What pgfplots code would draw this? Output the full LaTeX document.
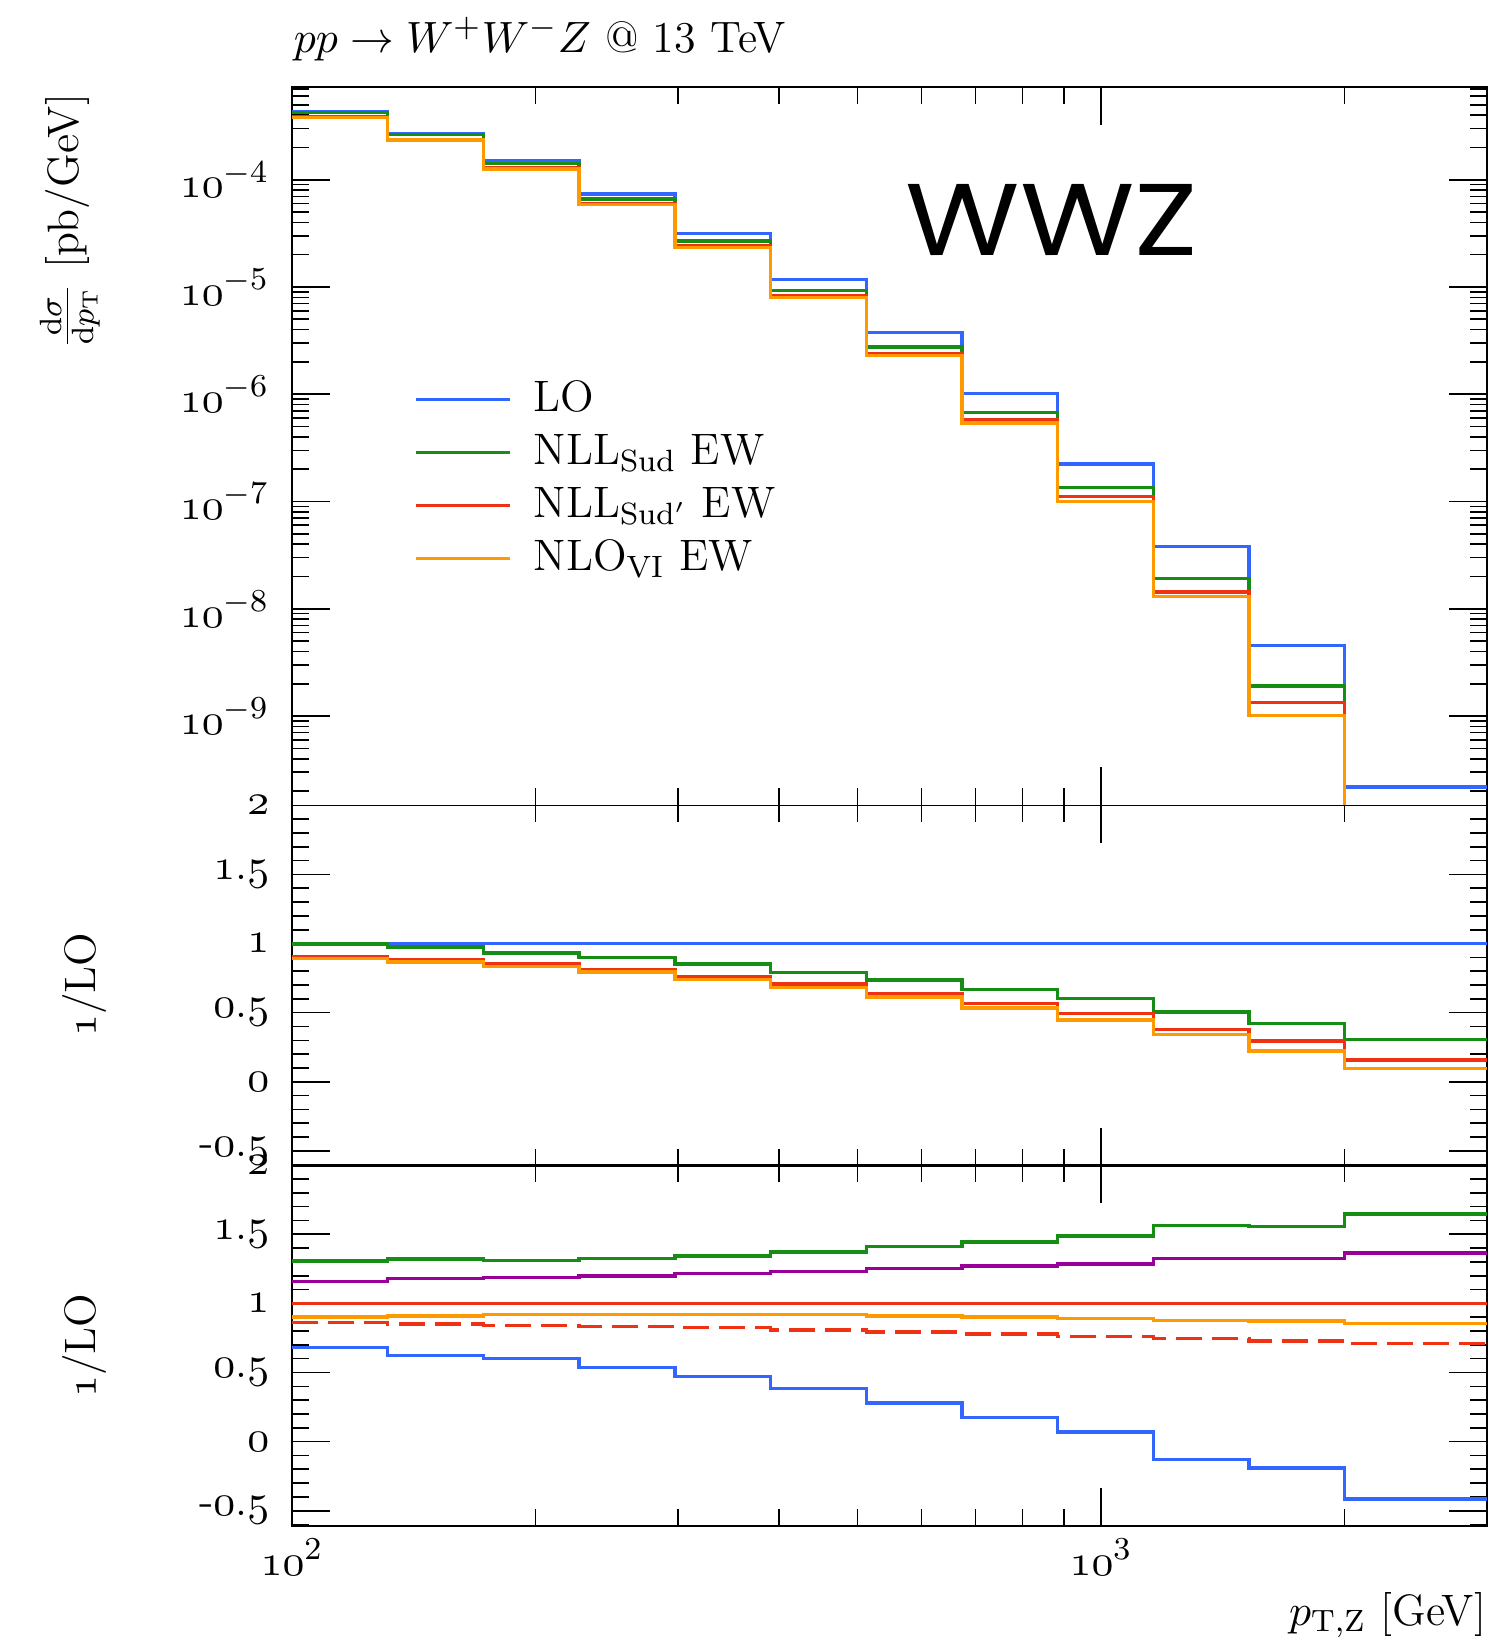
\documentclass[border=0pt]{standalone}
\usepackage{pgfplots}
\pgfplotsset{compat=1.18}
\usepackage{fontspec}
\newfontfamily\wwzfont{Poppins}
\definecolor{cblue}{RGB}{51,102,255}
\definecolor{cgreen}{RGB}{22,142,22}
\definecolor{cred}{RGB}{240,50,20}
\definecolor{corange}{RGB}{255,153,0}
\definecolor{cpurple}{RGB}{153,0,153}
\newcommand{\os}[1]{{\usefont{OML}{cmm}{m}{it}#1}}
\begin{document}
\fontsize{11}{13}\selectfont
\begin{tikzpicture}
\path[use as bounding box] (-73pt,21.675pt) rectangle (299.75pt,-388.825pt);
% ---------------- top panel ----------------
\begin{axis}[xmode=log, ymode=log, scale only axis, width=298.75pt, height=179.65pt,
  at={(0pt,0pt)}, anchor=north west,
  xmin=100, xmax=3000, ymin=1.47e-10, ymax=7.36e-4,
  xtick={100,1000}, minor xtick={200,300,400,500,600,700,800,900,2000,3000},
  xticklabels={},
  tick align=inside, major tick length=9.5pt, minor tick length=4.25pt,
  axis line style={line width=0.4pt},
  tick style={black, line width=0.4pt},
  tick label style={font=\fontsize{11}{13}\selectfont},
  yticklabel style={inner sep=0pt, xshift=-5.5pt},
  ytick={1e-9,1e-8,1e-7,1e-6,1e-5,1e-4},
  yticklabels={\os{10}$^{-9}$,\os{10}$^{-8}$,\os{10}$^{-7}$,\os{10}$^{-6}$,\os{10}$^{-5}$,\os{10}$^{-4}$},
  minor ytick={2e-10,3e-10,4e-10,5e-10,6e-10,7e-10,8e-10,9e-10,
               2e-9,3e-9,4e-9,5e-9,6e-9,7e-9,8e-9,9e-9,
               2e-8,3e-8,4e-8,5e-8,6e-8,7e-8,8e-8,9e-8,
               2e-7,3e-7,4e-7,5e-7,6e-7,7e-7,8e-7,9e-7,
               2e-6,3e-6,4e-6,5e-6,6e-6,7e-6,8e-6,9e-6,
               2e-5,3e-5,4e-5,5e-5,6e-5,7e-5,8e-5,9e-5,
               2e-4,3e-4,4e-4,5e-4,6e-4,7e-4},
  legend style={at={(0.1018,0.603)}, anchor=north west, draw=none, fill=none,
    inner sep=0pt, row sep=0pt, column sep=3.5pt, font=\fontsize{11}{13}\selectfont},
  legend cell align=left,
  legend image code/.code={\draw[#1] (0pt,0pt) -- (23.5pt,0pt);},
]
\addplot[const plot, line width=0.85pt, cblue] coordinates {(100,4.27e-4) (131.31,2.70e-4) (172.43,1.51e-4) (226.43,7.35e-5) (297.34,3.16e-5) (390.44,1.17e-5) (512.71,3.76e-6) (673.26,1.014e-6) (884.08,2.24e-7) (1160.92,3.79e-8) (1524.45,4.52e-9) (2000,2.18e-10) (3000,2.18e-10)};
\addlegendentry{LO}
\addplot[const plot, line width=0.85pt, cgreen] coordinates {(100,4.26e-4) (131.31,2.635e-4) (172.43,1.409e-4) (226.43,6.61e-5) (297.34,2.69e-5) (390.44,9.24e-6) (512.71,2.76e-6) (673.26,6.76e-7) (884.08,1.348e-7) (1160.92,1.918e-8) (1524.45,1.907e-9) (2000,6.67e-11) (3000,6.67e-11)};
\addlegendentry{NLL$_{\mathrm{Sud}}$ EW}
\addplot[const plot, line width=0.85pt, cred] coordinates {(100,3.86e-4) (131.31,2.376e-4) (172.43,1.285e-4) (226.43,5.98e-5) (297.34,2.41e-5) (390.44,8.26e-6) (512.71,2.40e-6) (673.26,5.74e-7) (884.08,1.107e-7) (1160.92,1.433e-8) (1524.45,1.329e-9) (2000,3.42e-11) (3000,3.42e-11)};
\addlegendentry{NLL$_{\mathrm{Sud}'}$ EW}
\addplot[const plot, line width=0.85pt, corange] coordinates {(100,3.81e-4) (131.31,2.341e-4) (172.43,1.259e-4) (226.43,5.84e-5) (297.34,2.345e-5) (390.44,8.00e-6) (512.71,2.31e-6) (673.26,5.40e-7) (884.08,9.99e-8) (1160.92,1.296e-8) (1524.45,1.012e-9) (2000,2.09e-11) (3000,2.09e-11)};
\addlegendentry{NLO$_{\mathrm{VI}}$ EW}
\node[anchor=base west, inner sep=0pt, font=\wwzfont\fontsize{25.5}{30}\selectfont] at (rel axis cs:0.513,0.7657) {\scalebox{1.15}[1]{WWZ}};
\end{axis}
% ---------------- middle panel ----------------
\begin{axis}[xmode=log, scale only axis, width=298.75pt, height=90.2pt,
  at={(0pt,-179.65pt)}, anchor=north west,
  xmin=100, xmax=3000, ymin=-0.61, ymax=2,
  xtick={100,1000}, minor xtick={200,300,400,500,600,700,800,900,2000,3000},
  xticklabels={},
  tick align=inside, major tick length=9.5pt, minor tick length=4.25pt,
  axis line style={line width=0.4pt},
  tick style={black, line width=0.4pt},
  tick label style={font=\fontsize{11}{13}\selectfont},
  yticklabel style={inner sep=0pt, xshift=-5.5pt},
  ytick={-0.5,0,0.5,1,1.5,2},
  yticklabels={-\os{0}.\os{5},\os{0},\os{0}.\os{5},\os{1},\os{1}.\os{5},\os{2}},
  minor ytick={-0.6,-0.4,-0.3,-0.2,-0.1,0.1,0.2,0.3,0.4,0.6,0.7,0.8,0.9,1.1,1.2,1.3,1.4,1.6,1.7,1.8,1.9},
]
\addplot[const plot, line width=0.85pt, cblue] coordinates {(100,1) (3000,1)};
\addplot[const plot, line width=0.85pt, cgreen] coordinates {(100,0.998) (131.31,0.976) (172.43,0.933) (226.43,0.899) (297.34,0.851) (390.44,0.790) (512.71,0.735) (673.26,0.667) (884.08,0.602) (1160.92,0.506) (1524.45,0.422) (2000,0.306) (3000,0.306)};
\addplot[const plot, line width=0.85pt, cred] coordinates {(100,0.904) (131.31,0.880) (172.43,0.851) (226.43,0.814) (297.34,0.763) (390.44,0.706) (512.71,0.639) (673.26,0.566) (884.08,0.494) (1160.92,0.378) (1524.45,0.294) (2000,0.157) (3000,0.157)};
\addplot[const plot, line width=0.85pt, corange] coordinates {(100,0.892) (131.31,0.867) (172.43,0.834) (226.43,0.795) (297.34,0.742) (390.44,0.684) (512.71,0.614) (673.26,0.533) (884.08,0.446) (1160.92,0.342) (1524.45,0.224) (2000,0.096) (3000,0.096)};
\end{axis}
% ---------------- bottom panel ----------------
\begin{axis}[xmode=log, scale only axis, width=298.75pt, height=90.2pt,
  at={(0pt,-269.6pt)}, anchor=north west,
  xmin=100, xmax=3000, ymin=-0.61, ymax=2,
  xtick={100,1000}, minor xtick={200,300,400,500,600,700,800,900,2000,3000},
  xticklabels={\os{10}$^{2}$,\os{10}$^{3}$},
  xticklabel style={inner sep=0pt, yshift=-3pt},
  tick align=inside, major tick length=9.5pt, minor tick length=4.25pt,
  axis line style={line width=0.4pt},
  tick style={black, line width=0.4pt},
  tick label style={font=\fontsize{11}{13}\selectfont},
  yticklabel style={inner sep=0pt, xshift=-5.5pt},
  ytick={-0.5,0,0.5,1,1.5,2},
  yticklabels={-\os{0}.\os{5},\os{0},\os{0}.\os{5},\os{1},\os{1}.\os{5},\os{2}},
  minor ytick={-0.6,-0.4,-0.3,-0.2,-0.1,0.1,0.2,0.3,0.4,0.6,0.7,0.8,0.9,1.1,1.2,1.3,1.4,1.6,1.7,1.8,1.9},
]
\addplot[const plot, line width=0.85pt, cblue] coordinates {(100,0.679) (131.31,0.623) (172.43,0.599) (226.43,0.534) (297.34,0.469) (390.44,0.386) (512.71,0.278) (673.26,0.174) (884.08,0.070) (1160.92,-0.128) (1524.45,-0.191) (2000,-0.415) (3000,-0.415)};
\addplot[const plot, line width=0.85pt, cred, dash pattern=on 6.5pt off 2.5pt] coordinates {(100,0.860) (131.31,0.850) (172.43,0.841) (226.43,0.831) (297.34,0.826) (390.44,0.806) (512.71,0.792) (673.26,0.778) (884.08,0.761) (1160.92,0.744) (1524.45,0.727) (2000,0.708) (3000,0.708)};
\addplot[const plot, line width=0.85pt, corange] coordinates {(100,0.901) (131.31,0.908) (172.43,0.920) (226.43,0.920) (297.34,0.920) (390.44,0.919) (512.71,0.908) (673.26,0.901) (884.08,0.889) (1160.92,0.874) (1524.45,0.872) (2000,0.853) (3000,0.853)};
\addplot[const plot, line width=0.85pt, cred] coordinates {(100,1) (3000,1)};
\addplot[const plot, line width=0.85pt, cpurple] coordinates {(100,1.157) (131.31,1.181) (172.43,1.186) (226.43,1.198) (297.34,1.215) (390.44,1.232) (512.71,1.251) (673.26,1.270) (884.08,1.285) (1160.92,1.324) (1524.45,1.324) (2000,1.365) (3000,1.365)};
\addplot[const plot, line width=0.85pt, cgreen] coordinates {(100,1.307) (131.31,1.321) (172.43,1.312) (226.43,1.326) (297.34,1.343) (390.44,1.371) (512.71,1.411) (673.26,1.444) (884.08,1.486) (1160.92,1.563) (1524.45,1.558) (2000,1.647) (3000,1.647)};
\end{axis}
% ---------------- labels ----------------
\node[anchor=base west, inner sep=0pt] at (0.25pt,8.6pt) {$pp\rightarrow W^{+}W^{-}Z$ @ 13 TeV};
\node[rotate=90, anchor=east, inner sep=0pt] at (-55.5pt,-1.6pt) {$\frac{\mathrm{d}\sigma}{\mathrm{d}p_{\mathrm{T}}}$ [pb/GeV]};
\node[rotate=90, anchor=center, inner sep=0pt] at (-51.75pt,-224.45pt) {\os{1}/LO};
\node[rotate=90, anchor=center, inner sep=0pt] at (-51.75pt,-314.7pt) {\os{1}/LO};
\node[anchor=base east, inner sep=0pt] at (298.75pt,-384.6pt) {$p_{\mathrm{T,Z}}$ [GeV]};
\end{tikzpicture}
\end{document}
